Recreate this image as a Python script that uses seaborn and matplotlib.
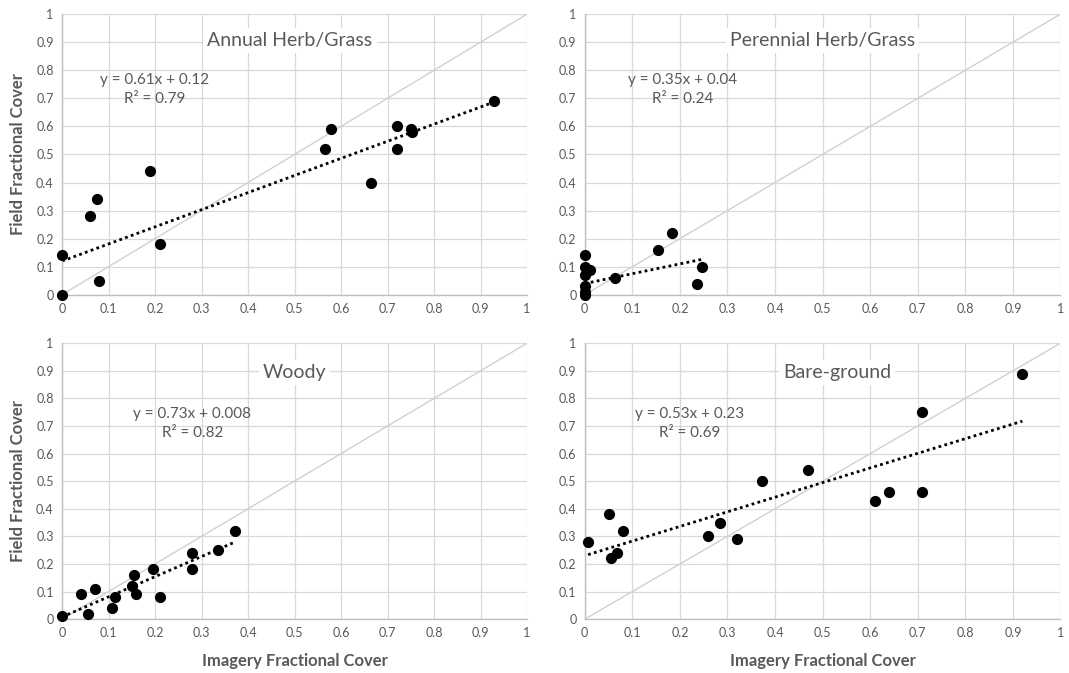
import matplotlib
matplotlib.use("Agg")
import matplotlib.pyplot as plt
import seaborn as sns
import pandas as pd
import numpy as np

sns.set_theme(style="white")
plt.rcParams['font.family'] = ['Lato', 'DejaVu Sans']

# Data (imagery cover, field cover)
annual_x = [0, 0, 0.06, 0.075, 0.08, 0.19, 0.21, 0.565, 0.578, 0.665, 0.72, 0.72, 0.75, 0.752, 0.928]
annual_y = [0, 0.14, 0.28, 0.34, 0.05, 0.44, 0.18, 0.52, 0.59, 0.40, 0.60, 0.52, 0.59, 0.58, 0.69]

perennial_x = [0, 0, 0, 0, 0, 0, 0.01, 0.063, 0.155, 0.183, 0.235, 0.247]
perennial_y = [0, 0.01, 0.03, 0.07, 0.10, 0.14, 0.09, 0.06, 0.16, 0.22, 0.04, 0.10]

woody_x = [0, 0.04, 0.055, 0.07, 0.107, 0.115, 0.15, 0.155, 0.16, 0.195, 0.21, 0.28, 0.28, 0.335, 0.372]
woody_y = [0.01, 0.09, 0.02, 0.11, 0.04, 0.08, 0.12, 0.16, 0.09, 0.18, 0.08, 0.24, 0.18, 0.25, 0.32]

bare_x = [0.007, 0.05, 0.055, 0.068, 0.08, 0.26, 0.285, 0.32, 0.372, 0.47, 0.61, 0.64, 0.71, 0.71, 0.92]
bare_y = [0.28, 0.38, 0.22, 0.24, 0.32, 0.30, 0.35, 0.29, 0.50, 0.54, 0.43, 0.46, 0.75, 0.46, 0.89]

titles = ["Annual Herb/Grass", "Perennial Herb/Grass", "Woody", "Bare-ground"]
slopes = [0.61, 0.35, 0.73, 0.53]
intercepts = [0.12, 0.04, 0.008, 0.23]
eq_labels = ["y = 0.61x + 0.12\nR² = 0.79", "y = 0.35x + 0.04\nR² = 0.24",
             "y = 0.73x + 0.008\nR² = 0.82", "y = 0.53x + 0.23\nR² = 0.69"]
eq_pos = [(0.20, 0.73), (0.205, 0.73), (0.28, 0.71), (0.22, 0.71)]
title_pos = [(0.49, 0.905), (0.5, 0.905), (0.5, 0.895), (0.53, 0.895)]

xs = [annual_x, perennial_x, woody_x, bare_x]
ys = [annual_y, perennial_y, woody_y, bare_y]

fig = plt.figure(figsize=(10.69, 6.73), dpi=100)
boxes = [
    [0.058, 0.562, 0.435, 0.417],
    [0.547, 0.562, 0.445, 0.417],
    [0.058, 0.080, 0.435, 0.410],
    [0.547, 0.080, 0.445, 0.410],
]

gray = "#595959"
ticks = np.round(np.arange(0, 1.01, 0.1), 1)
tick_labels = ["0"] + [f"{t:g}" for t in ticks[1:-1]] + ["1"]

for i in range(4):
    ax = fig.add_axes(boxes[i])
    df = pd.DataFrame({"x": xs[i], "y": ys[i]})
    # 1:1 line
    ax.plot([0, 1], [0, 1], color="#d0d0d0", lw=1, zorder=1)
    # trendline from the printed equation
    tx = np.array([min(xs[i]), max(xs[i])])
    ax.plot(tx, slopes[i] * tx + intercepts[i], color="black", lw=2,
            linestyle=(0, (1, 1.2)), zorder=2)
    sns.scatterplot(data=df, x="x", y="y", ax=ax, color="black", s=65,
                    edgecolor="black", linewidth=0, zorder=3, clip_on=False)
    ax.set_xlim(0, 1)
    ax.set_ylim(0, 1)
    ax.set_xticks(ticks)
    ax.set_yticks(ticks)
    ax.set_xticklabels(tick_labels)
    ax.set_yticklabels(tick_labels)
    ax.tick_params(axis="both", length=0, labelsize=9, labelcolor=gray, pad=6)
    ax.grid(True, color="#d9d9d9", lw=0.9)
    ax.set_axisbelow(True)
    for s in ["top", "right"]:
        ax.spines[s].set_visible(False)
    for s in ["left", "bottom"]:
        ax.spines[s].set_color("#bfbfbf")
        ax.spines[s].set_linewidth(1)
    ax.text(title_pos[i][0], title_pos[i][1], titles[i], transform=ax.transAxes,
            ha="center", va="center", fontsize=14, color=gray,
            bbox=dict(facecolor="white", edgecolor="none", pad=3), zorder=4)
    ax.text(eq_pos[i][0], eq_pos[i][1], eq_labels[i], transform=ax.transAxes,
            ha="center", va="center", fontsize=11, color=gray, linespacing=1.45)
    ax.set_xlabel("")
    ax.set_ylabel("")
    if i in (0, 2):
        ax.set_ylabel("Field Fractional Cover", fontsize=12, fontweight="bold",
                      color=gray, labelpad=7)
    if i in (2, 3):
        ax.set_xlabel("Imagery Fractional Cover", fontsize=12, fontweight="bold",
                      color=gray, labelpad=10)

fig.savefig("out.png", dpi=100, facecolor="white")
